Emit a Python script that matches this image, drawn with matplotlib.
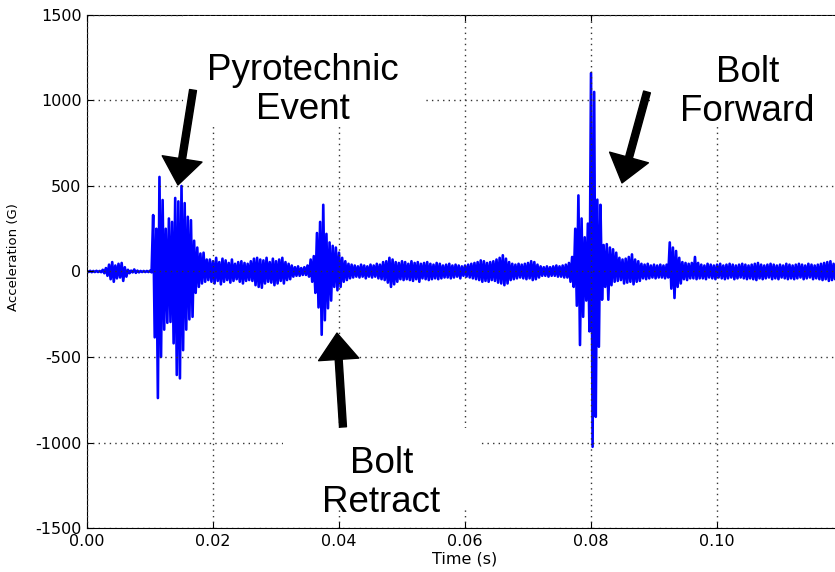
import numpy as np
import matplotlib
matplotlib.use("Agg")
from matplotlib import pyplot as plt
from matplotlib.patches import Rectangle

plt.rcParams['axes.unicode_minus'] = False

# envelope of the accelerometer trace, one pair every 0.5 ms
step = 0.0005
upper = [3, 4, 3, 4, 3,
         10, 20, 40, 55, 35, 45, 50, 25, 10, 5, 12, 5, 3, 3, 3, 5,
         330, 250, 553, 418, 250, 310, 290, 430, 410, 500, 400, 320, 300, 180, 140, 105, 110, 70,
         70, 60, 80, 55, 75, 65, 50, 70, 45, 55, 60, 50, 45, 60, 75, 80, 70, 65, 80, 55,
         75, 60, 70, 80, 55, 45, 35, 25, 30, 20, 25, 35,
         70, 90, 225, 290, 390, 220, 170, 150, 140, 110, 80, 60, 45,
         40, 35, 30, 40, 35, 30, 40, 35, 45, 40,
         55, 60, 80, 70, 55, 50, 60, 55, 45, 60,
         50, 55, 45, 50, 55, 45, 40, 50, 45, 35,
         40, 45, 35, 40, 35, 30, 35, 40, 45, 50,
         55, 65, 60, 50, 55, 60, 70, 80, 95, 75,
         55, 45, 40, 45, 40, 45, 50, 60, 55, 40,
         30, 25, 30, 25, 30, 35, 30, 35, 40, 50,
         85, 250, 445, 310, 200, 280, 1160, 1050, 420, 390,
         155, 160, 140, 130, 110, 80, 70, 75, 85, 100,
         70, 60, 45, 40, 45, 35, 40, 35, 40, 35,
         40, 170, 140, 120, 80, 55, 50, 45, 50, 85, 50,
         40, 35, 45, 40, 35, 40, 45, 35, 40, 45,
         40, 35, 40, 45, 40, 35, 40, 45, 50, 40,
         35, 40, 45, 40, 35, 40, 35, 45, 40, 35,
         40, 45, 40, 35, 45, 40, 35, 40, 45, 50,
         55, 60, 45, 40, 45]
lower = [-3, -4, -3, -3, -4,
         -10, -25, -45, -60, -40, -35, -55, -30, -10, -5, -8, -5, -3, -3, -3, -5,
         -385, -740, -500, -340, -300, -295, -420, -605, -625, -460, -340, -280, -265, -125, -90, -70, -60, -50,
         -60, -70, -55, -75, -60, -50, -65, -55, -45, -60, -70, -55, -50, -55, -80, -90, -95, -70, -60, -65,
         -80, -70, -55, -70, -50, -45, -30, -25, -25, -20, -20, -30,
         -60, -125, -210, -370, -285, -215, -170, -90, -110, -90, -60, -50, -40,
         -35, -30, -35, -30, -40, -30, -35, -30, -40, -45,
         -50, -65, -90, -75, -60, -45, -50, -45, -50, -55,
         -45, -60, -40, -45, -50, -45, -40, -45, -40, -35,
         -35, -40, -35, -30, -40, -25, -30, -35, -40, -45,
         -50, -60, -55, -60, -50, -55, -65, -70, -80, -70,
         -50, -45, -40, -35, -40, -45, -40, -50, -45, -35,
         -25, -25, -30, -25, -25, -30, -30, -35, -35, -60,
         -90, -200, -430, -265, -170, -350, -1025, -850, -440, -165,
         -90, -165, -80, -60, -55, -50, -70, -65, -60, -75,
         -60, -55, -40, -45, -40, -35, -40, -35, -35, -40,
         -35, -100, -155, -90, -70, -45, -50, -40, -40, -45, -40,
         -40, -45, -35, -40, -45, -35, -40, -45, -40, -35,
         -45, -40, -35, -40, -45, -40, -45, -50, -40, -45,
         -40, -35, -45, -40, -45, -35, -40, -45, -40, -45,
         -40, -35, -45, -40, -35, -45, -40, -45, -50, -45,
         -55, -50, -45, -40, -45]

xticks = [0.00, 0.02, 0.04, 0.06, 0.08, 0.10]
yticks = [-1500, -1000, -500, 0, 500, 1000, 1500]

# zig-zag between the two envelopes
n = len(upper)
t = np.empty(2 * n)
t[0::2] = np.arange(n) * step
t[1::2] = np.arange(n) * step + step / 2
acc = np.empty(2 * n)
acc[0::2] = upper
acc[1::2] = lower

fig = plt.figure(figsize=(8.35, 5.72), dpi=100)
ax = fig.add_axes([0.1042, 0.0769, 0.9054, 0.8969])
ax.fill_between(t, acc, 0, color='b', lw=0, zorder=2)
ax.plot(t, acc, color='b', lw=1.9)

ax.set_xlim(0, 0.12)
ax.set_ylim(-1500, 1500)
ax.set_xticks(xticks)
ax.set_xticklabels(['%.2f' % v for v in xticks])
ax.set_yticks(yticks)
ax.tick_params(direction='in', length=4, labelsize=11.5, pad=4, top=True)
ax.set_axisbelow(False)
ax.grid(True, color='0.2', linestyle=(0, (1, 3)), linewidth=1.0)
ax.set_xlabel('Time (s)', fontsize=11.5, labelpad=2)
ax.set_ylabel('Acceleration (G)', fontsize=9.5)
ax.yaxis.set_label_coords(-0.088, 0.528)

# white boxes behind the labels hide the grid
for x0, y0, w, h in [(0.127, 0.782, 0.317, 0.216), (0.747, 0.782, 0.26, 0.216),
                     (0.259, 0.035, 0.261, 0.16)]:
    ax.add_patch(Rectangle((x0, y0), w, h, transform=ax.transAxes,
                           fc='white', ec='none', zorder=2.6))

big = dict(fontsize=26.5, family='Liberation Sans', ha='center', va='center',
           linespacing=1.15, zorder=3)
ax.text(0.0343, 1061, 'Pyrotechnic\nEvent', **big)
ax.text(0.0467, -1237, 'Bolt\nRetract', **big)
ax.text(0.1048, 1050, 'Bolt\nForward', **big)

arrow = dict(facecolor='black', edgecolor='black', width=5, headwidth=29,
             headlength=19, shrink=0)
ax.annotate('', xy=(0.01444, 506), xytext=(0.01683, 1061), arrowprops=arrow)
ax.annotate('', xy=(0.03968, -360), xytext=(0.04063, -909), arrowprops=arrow)
ax.annotate('', xy=(0.08492, 518), xytext=(0.08889, 1050), arrowprops=arrow)

fig.savefig('out.png', dpi=100)
